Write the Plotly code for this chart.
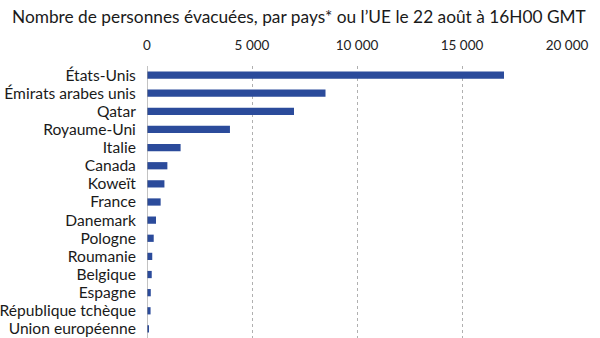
import plotly.graph_objects as go

countries = ["États-Unis", "Émirats arabes unis", "Qatar", "Royaume-Uni", "Italie",
             "Canada", "Koweït", "France", "Danemark", "Pologne", "Roumanie",
             "Belgique", "Espagne", "République tchèque", "Union européenne"]
evacuated = [17000, 8500, 7000, 3950, 1600, 970, 830, 650, 430, 320, 250, 225, 180, 170, 60]
tick_vals = [0, 5000, 10000, 15000, 20000]
tick_text = ["0", "5 000", "10 000", "15 000", "20 000"]

title = "Nombre de personnes évacuées, par pays* ou l’UE le 22 août à 16H00 GMT"

fig = go.Figure(go.Bar(
    x=evacuated, y=countries, orientation="h",
    marker=dict(color="#2b4b9b", line=dict(width=0)),
    width=0.4,
))

fig.update_layout(
    width=600, height=338,
    margin=dict(l=147, r=33, t=66, b=0),
    paper_bgcolor="white", plot_bgcolor="white",
    showlegend=False,
    font=dict(family="Lato, Noto Sans, sans-serif", color="#222"),
    annotations=[dict(text=title, xref="paper", yref="paper", x=-137/420, y=1,
                      yshift=50, xanchor="left", yanchor="middle", showarrow=False,
                      font=dict(size=17.3, color="#1a1a1a", family="Lato, sans-serif"))],
)
fig.update_xaxes(
    side="top", range=[0, 20000], tickvals=tick_vals, ticktext=tick_text,
    showgrid=True, gridcolor="#b0b0b0", griddash="dot", gridwidth=1,
    zeroline=False, showline=False, ticks="outside", ticklen=10, tickcolor="white",
    tickfont=dict(size=13.5, color="#222"), fixedrange=True, automargin=False,
)
fig.update_yaxes(
    autorange=False, range=[14.5, -0.5], categoryorder="array", categoryarray=countries,
    tickmode="array", tickvals=countries, ticktext=countries,
    showgrid=False, zeroline=False, showline=False, automargin=False,
    ticks="outside", ticklen=7, tickcolor="white",
    tickfont=dict(size=15.6, color="#1a1a1a"),
)
fig.add_shape(type="line", xref="x", yref="paper", x0=0, x1=0, y0=0, y1=1,
              line=dict(color="#9a9a9a", width=1.2), layer="above")

fig.write_html("out.html")
